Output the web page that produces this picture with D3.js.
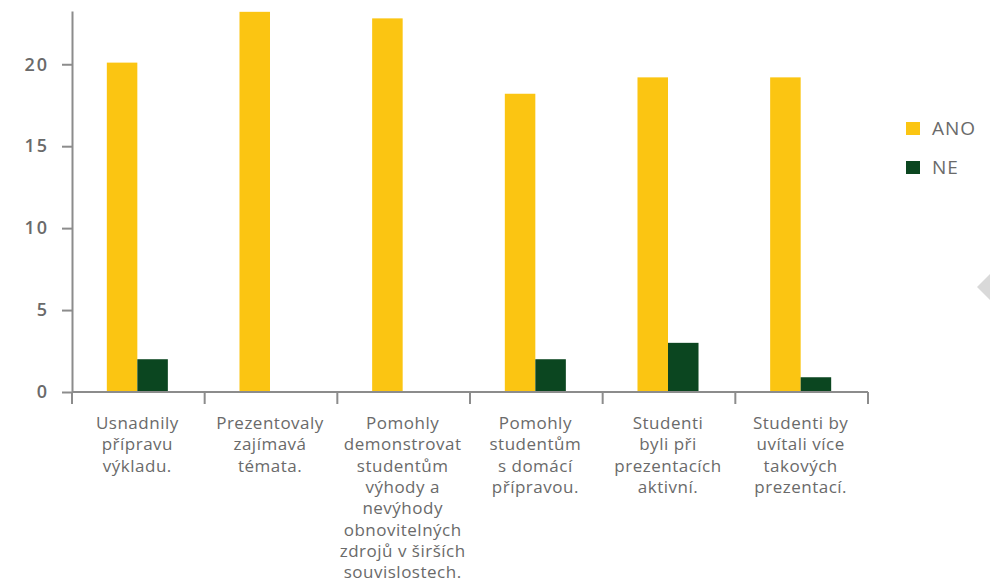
<!DOCTYPE html>
<html>
<head>
<meta charset="utf-8">
<script src="https://cdn.jsdelivr.net/npm/d3@7"></script>
<style>
  html, body { margin: 0; padding: 0; background: #ffffff; }
  svg { display: block; }
</style>
</head>
<body>
<svg id="chart" width="990" height="585"></svg>
<script>
// ---- data ----
const categories = [
  "Usnadnily\npřípravu\nvýkladu.",
  "Prezentovaly\nzajímavá\ntémata.",
  "Pomohly\ndemonstrovat\nstudentům\nvýhody a\nnevýhody\nobnovitelných\nzdrojů v širších\nsouvislostech.",
  "Pomohly\nstudentům\ns domácí\npřípravou.",
  "Studenti\nbyli při\nprezentacích\naktivní.",
  "Studenti by\nuvítali více\ntakových\nprezentací."
];
const seriesNames = ["ANO", "NE"];
const anoValues = [20.1, 23.2, 22.8, 18.2, 19.2, 19.2];
const neValues  = [2.0, 0, 0, 2.0, 3.0, 0.9];
const yTicks = [0, 5, 10, 15, 20];
const yMax = 23.25;

// ---- styles ----
const colors = { ANO: "#FBC512", NE: "#0B4620" };
const axisColor = "#8c8c8c";
const textColor = "#6a6a6a";
const font = "'Open Sans', 'Noto Sans', sans-serif";

const svg = d3.select("#chart");
const mLeft = 72, mRight = 868, mTop = 11, mBottom = 392;

const x = d3.scaleBand().domain(categories).range([mLeft, mRight]).padding(0);
const y = d3.scaleLinear().domain([0, yMax]).range([mBottom, mTop]);
const bw = x.bandwidth() * 0.23;

// bars
const data = categories.map((c, i) => ({ c, ANO: anoValues[i], NE: neValues[i] }));
const g = svg.append("g");
g.selectAll("rect.ano").data(data).join("rect")
  .attr("class", "ano")
  .attr("x", d => x(d.c) + x.bandwidth() / 2 - 1 - bw)
  .attr("y", d => y(d.ANO))
  .attr("width", bw)
  .attr("height", d => y(0) - y(d.ANO))
  .attr("fill", colors.ANO);
g.selectAll("rect.ne").data(data.filter(d => d.NE > 0)).join("rect")
  .attr("class", "ne")
  .attr("x", d => x(d.c) + x.bandwidth() / 2 - 1)
  .attr("y", d => y(d.NE))
  .attr("width", bw)
  .attr("height", d => y(0) - y(d.NE))
  .attr("fill", colors.NE);

// y axis
const yAxis = svg.append("g")
  .attr("transform", `translate(${mLeft},0)`)
  .call(d3.axisLeft(y).tickValues(yTicks).tickSize(10).tickSizeOuter(0).tickPadding(13));
yAxis.select(".domain").attr("stroke", axisColor).attr("stroke-width", 2);
yAxis.selectAll(".tick line").attr("stroke", axisColor).attr("stroke-width", 2);
yAxis.selectAll(".tick text")
  .attr("fill", textColor)
  .style("font-family", font)
  .style("font-size", "18px")
  .style("font-weight", "600")
  .style("letter-spacing", "2px");

// x axis
const xAxis = svg.append("g");
xAxis.append("line")
  .attr("x1", mLeft).attr("x2", mRight)
  .attr("y1", y(0)).attr("y2", y(0))
  .attr("stroke", axisColor).attr("stroke-width", 2);
const boundaries = categories.map(c => x(c)).concat([x.range()[1]]);
xAxis.selectAll("line.tick").data(boundaries).join("line")
  .attr("class", "tick")
  .attr("x1", d => d).attr("x2", d => d)
  .attr("y1", y(0)).attr("y2", y(0) + 12)
  .attr("stroke", axisColor).attr("stroke-width", 2);

const labels = xAxis.selectAll("text.xl").data(categories).join("text")
  .attr("class", "xl")
  .attr("text-anchor", "middle")
  .attr("fill", textColor)
  .style("font-family", font)
  .style("font-size", "17px")
  .style("letter-spacing", "0.5px")
  .attr("transform", d => `translate(${x(d) + x.bandwidth() / 2 - 1},${y(0) + 37})`);
labels.selectAll("tspan").data(d => d.split("\n")).join("tspan")
  .attr("x", 0)
  .attr("y", (d, i) => i * 21.3)
  .text(d => d);

// legend
const legend = svg.append("g").attr("transform", "translate(906,122)");
seriesNames.forEach((s, i) => {
  const row = legend.append("g").attr("transform", `translate(0,${i * 39})`);
  row.append("rect").attr("width", 14).attr("height", 13).attr("fill", colors[s]);
  row.append("text")
    .attr("x", 26).attr("y", 12.5)
    .attr("fill", textColor)
    .style("font-family", font)
    .style("font-size", "19px")
    .style("letter-spacing", "1px")
    .text(s);
});

// decorative grey arrow at right edge
svg.append("path")
  .attr("d", "M977,287 L990,274 L990,300 Z")
  .attr("fill", "#d9d9d9");
</script>
</body>
</html>
